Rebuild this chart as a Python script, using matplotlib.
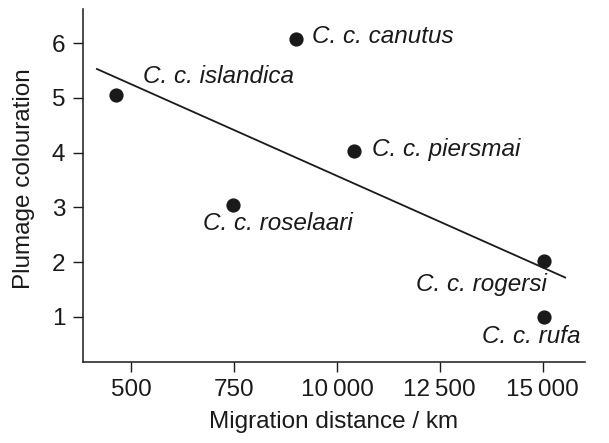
import matplotlib
matplotlib.use("Agg")
import matplotlib.pyplot as plt

plt.rcParams['font.family'] = ['Liberation Sans', 'DejaVu Sans']

subspecies = ["C. c. islandica", "C. c. roselaari", "C. c. canutus",
              "C. c. piersmai", "C. c. rogersi", "C. c. rufa"]
distance = [4620, 7470, 9000, 10410, 15040, 15040]
plumage = [5.06, 3.04, 6.08, 4.04, 2.03, 0.99]

fit_x = [4160, 15550]
fit_y = [5.53, 1.72]

xticks = [5000, 7500, 10000, 12500, 15000]
xtick_labels = ["500", "750", "10\u2009000", "12\u2009500", "15\u2009000"]
yticks = [1, 2, 3, 4, 5, 6]

# label offsets in pixels and alignment
label_style = {
    "C. c. islandica": ((27, 18), "left"),
    "C. c. roselaari": ((-30, -18), "left"),
    "C. c. canutus": ((16, 2), "left"),
    "C. c. piersmai": ((18, 1), "left"),
    "C. c. rogersi": ((3, -24), "right"),
    "C. c. rufa": ((36, -19), "right"),
}

FS = 17.5
fig = plt.figure(figsize=(6.09, 4.43), dpi=100)
ax = fig.add_axes([0.1355, 0.182, 0.825, 0.797])

ax.plot(fit_x, fit_y, color='#1a1a1a', lw=1.3, zorder=2)
ax.scatter(distance, plumage, s=105, color='#1a1a1a', zorder=3, linewidths=0)

for name, x, y in zip(subspecies, distance, plumage):
    off, ha = label_style[name]
    ax.annotate(name, (x, y), xytext=off, textcoords='offset pixels',
                ha=ha, va='center', fontsize=FS, style='italic', color='#1a1a1a')

ax.set_xlim(3810, 16030)
ax.set_ylim(0.17, 6.62)
ax.set_xticks(xticks)
ax.set_xticklabels(xtick_labels)
ax.set_yticks(yticks)
ax.tick_params(axis='both', labelsize=FS, colors='#1a1a1a', width=1, length=7.5, direction='out')
ax.tick_params(axis='x', pad=4.5)
ax.tick_params(axis='y', pad=5)
for s in ['top', 'right']:
    ax.spines[s].set_visible(False)
for s in ['left', 'bottom']:
    ax.spines[s].set_linewidth(1.1)
    ax.spines[s].set_color('#1a1a1a')

ax.set_xlabel("Migration distance / km", fontsize=FS, color='#1a1a1a', labelpad=7)
ax.set_ylabel("Plumage colouration", fontsize=FS, color='#1a1a1a', labelpad=12, y=0.52)

fig.savefig("out.png", dpi=100)
